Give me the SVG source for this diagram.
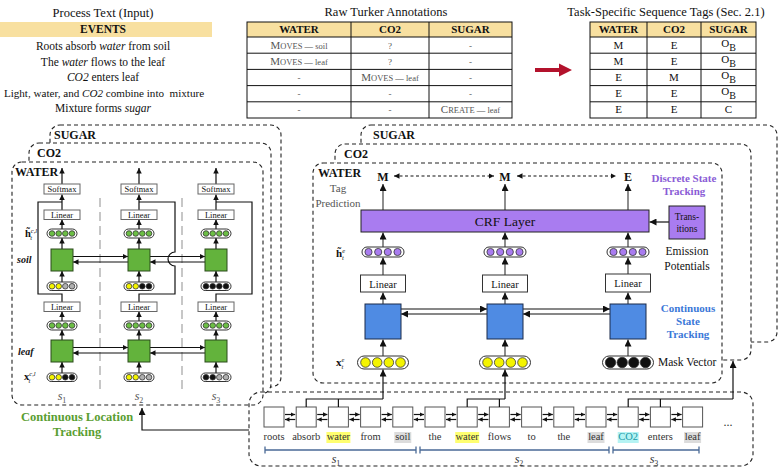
<svg xmlns="http://www.w3.org/2000/svg" width="783" height="468" viewBox="0 0 783 468" font-family="'Liberation Serif','Times New Roman',serif">
<defs>
<style>
text{font-family:"Liberation Serif","Times New Roman",serif;fill:#111}
.db{fill:#fff;stroke:#222;stroke-width:1.1;stroke-dasharray:4 3}
.dbn{fill:none;stroke:#222;stroke-width:1.1;stroke-dasharray:4 3}
.ln{stroke:#111;stroke-width:1.2;fill:none}
.lg{stroke:#444;stroke-width:1.2;fill:none}
.bx{fill:#fff;stroke:#666;stroke-width:1}
.bxr{fill:#fff;stroke:#333;stroke-width:1}
.pl{fill:#fff;stroke:#333;stroke-width:1}
.G{fill:#6cbf45;stroke:#333;stroke-width:0.8}
.Y{fill:#f4f400;stroke:#333;stroke-width:0.8}
.K{fill:#111;stroke:#333;stroke-width:0.8}
.A{fill:#b0b0b0;stroke:#333;stroke-width:0.8}
.P{fill:#a97cf0;stroke:#333;stroke-width:0.8}
.sq{fill:#63b33c;stroke:#2a4a1a;stroke-width:1}
.bq{fill:#4f8be3;stroke:#1a2a4a;stroke-width:1}
.pu{fill:#a97cf0;stroke:#222;stroke-width:1}
.wb{fill:#fff;stroke:#555;stroke-width:1}
.sep{stroke:#aaa;stroke-width:1.3;stroke-dasharray:9 5}
.tb{fill:none;stroke:#111;stroke-width:1}
.hd{fill:#f8e0a0}
.sp{stroke:#4a6a96;stroke-width:1.3;fill:none}
.c{text-anchor:middle}
.gr{fill:#555}
</style>
<marker id="a" viewBox="0 0 10 10" refX="10" refY="5" markerWidth="7" markerHeight="7" markerUnits="userSpaceOnUse" orient="auto-start-reverse"><path d="M0,0 L10,5 L0,10 z" fill="#111"/></marker>
<marker id="as" viewBox="0 0 10 10" refX="10" refY="5" markerWidth="5.5" markerHeight="5.5" markerUnits="userSpaceOnUse" orient="auto-start-reverse"><path d="M0,0 L10,5 L0,10 z" fill="#111"/></marker>
<marker id="at" viewBox="0 0 10 10" refX="10" refY="5" markerWidth="4.5" markerHeight="4.5" markerUnits="userSpaceOnUse" orient="auto-start-reverse"><path d="M0,0 L10,5 L0,10 z" fill="#111"/></marker>
</defs>

<!-- Top left: process text -->
<g id="process-text">
<text x="103" y="17" class="c" font-size="12.5">Process Text (Input)</text>
<rect x="0" y="22" width="212" height="15" class="hd"/>
<text x="103" y="33" class="c" font-size="11.5" font-weight="bold">EVENTS</text>
<text x="103" y="50" class="c" font-size="11.5">Roots absorb <tspan font-style="italic">water</tspan> from soil</text>
<text x="103" y="66" class="c" font-size="11.5">The <tspan font-style="italic">water</tspan> flows to the leaf</text>
<text x="103" y="81" class="c" font-size="11.5"><tspan font-style="italic">CO2</tspan> enters leaf</text>
<text x="104" y="97" class="c" font-size="11.1" xml:space="preserve">Light, water, and <tspan font-style="italic">CO2</tspan> combine into  mixture</text>
<text x="103" y="112" class="c" font-size="11.5">Mixture forms <tspan font-style="italic">sugar</tspan></text>
</g>

<!-- Raw Turker table -->
<g id="turker-table">
<text x="386" y="16" class="c" font-size="12.5">Raw Turker Annotations</text>
<rect x="247" y="22" width="265" height="15" class="hd"/>
<rect x="247" y="22" width="265" height="96" class="tb"/>
<path class="tb" d="M247,37H512M247,53.2H512M247,69.4H512M247,85.6H512M247,101.8H512M351,22V118M429,22V118"/>
<text x="299" y="33" class="c" font-size="11" font-weight="bold">WATER</text>
<text x="390" y="33" class="c" font-size="11" font-weight="bold">CO2</text>
<text x="470.5" y="33" class="c" font-size="11" font-weight="bold">SUGAR</text>
<text x="299" y="49" class="c gr"><tspan font-size="11">M</tspan><tspan font-size="8.5">OVES — soil</tspan></text>
<text x="390" y="49" class="c gr" font-size="9">?</text>
<text x="470.5" y="49" class="c gr" font-size="9">-</text>
<text x="299" y="65" class="c gr"><tspan font-size="11">M</tspan><tspan font-size="8.5">OVES — leaf</tspan></text>
<text x="390" y="65" class="c gr" font-size="9">?</text>
<text x="470.5" y="65" class="c gr" font-size="9">-</text>
<text x="299" y="81" class="c gr" font-size="9">-</text>
<text x="390" y="81" class="c gr"><tspan font-size="11">M</tspan><tspan font-size="8.5">OVES — leaf</tspan></text>
<text x="470.5" y="81" class="c gr" font-size="9">-</text>
<text x="299" y="97" class="c gr" font-size="9">-</text>
<text x="390" y="97" class="c gr" font-size="9">-</text>
<text x="470.5" y="97" class="c gr" font-size="9">-</text>
<text x="299" y="113" class="c gr" font-size="9">-</text>
<text x="390" y="113" class="c gr" font-size="9">-</text>
<text x="470.5" y="113" class="c gr"><tspan font-size="11">C</tspan><tspan font-size="8.5">REATE — leaf</tspan></text>
</g>

<!-- Red arrow -->
<g id="red-arrow"><path d="M535,68H559V63.5L572,70L559,76.5V72H535Z" fill="#b3122c"/></g>

<!-- Task tags table -->
<g id="tags-table">
<text x="666" y="16" class="c" font-size="12.5">Task-Specific Sequence Tags (Sec. 2.1)</text>
<rect x="590" y="22" width="166" height="15" class="hd"/>
<rect x="590" y="22" width="166" height="96" class="tb"/>
<path class="tb" d="M590,37H756M590,53.2H756M590,69.4H756M590,85.6H756M590,101.8H756M647,22V118M701,22V118"/>
<text x="618.5" y="33" class="c" font-size="11" font-weight="bold">WATER</text>
<text x="674" y="33" class="c" font-size="11" font-weight="bold">CO2</text>
<text x="728.5" y="33" class="c" font-size="11" font-weight="bold">SUGAR</text>
<text x="618.5" y="49" class="c" font-size="11">M</text><text x="674" y="49" class="c" font-size="11">E</text>
<text x="728.5" y="47" class="c" font-size="11">O<tspan dy="4" font-size="10">B</tspan></text>
<text x="618.5" y="65" class="c" font-size="11">M</text><text x="674" y="65" class="c" font-size="11">E</text>
<text x="728.5" y="63" class="c" font-size="11">O<tspan dy="4" font-size="10">B</tspan></text>
<text x="618.5" y="81" class="c" font-size="11">E</text><text x="674" y="81" class="c" font-size="11">M</text>
<text x="728.5" y="79" class="c" font-size="11">O<tspan dy="4" font-size="10">B</tspan></text>
<text x="618.5" y="97" class="c" font-size="11">E</text><text x="674" y="97" class="c" font-size="11">E</text>
<text x="728.5" y="95" class="c" font-size="11">O<tspan dy="4" font-size="10">B</tspan></text>
<text x="618.5" y="113" class="c" font-size="11">E</text><text x="674" y="113" class="c" font-size="11">E</text>
<text x="728.5" y="113" class="c" font-size="11">C</text>
</g>

<!-- LEFT PANEL frames -->
<g id="left-frames">
<rect x="50" y="125" width="231" height="262" rx="10" class="db"/>
<text x="54" y="139" font-size="12" font-weight="bold">SUGAR</text>
<rect x="29" y="143" width="242" height="251" rx="10" class="db"/>
<text x="37" y="157" font-size="12" font-weight="bold">CO2</text>
<rect x="12" y="162" width="251" height="243" rx="10" class="db"/>
<text x="15" y="176" font-size="12" font-weight="bold">WATER</text>
</g>

<!-- RIGHT PANEL frames -->
<g id="right-frames">
<rect x="361" y="125" width="416" height="217" rx="10" class="db"/>
<text x="373" y="139" font-size="12" font-weight="bold">SUGAR</text>
<rect x="335" y="144" width="416" height="216" rx="10" class="db"/>
<text x="344" y="158" font-size="12" font-weight="bold">CO2</text>
<rect x="313" y="163" width="409" height="220" rx="10" class="db"/>
<text x="318" y="177" font-size="12" font-weight="bold">WATER</text>
</g>

<!-- Bottom sequence frame -->
<g id="sequence-frame"><rect x="249" y="392" width="504" height="74" rx="12" class="dbn"/></g>

<!-- LEFT PANEL content -->
<g id="left-separators">
<line x1="100" y1="198" x2="100" y2="390" class="sep"/>
<line x1="182" y1="198" x2="182" y2="390" class="sep"/>
</g>
<g id="left-labels">
<text x="25" y="237" font-size="10.5" font-weight="bold">h&#x303;<tspan font-size="6.5" dy="-4" font-style="italic" font-weight="normal">c,l</tspan><tspan font-size="6.5" dx="-7" dy="7" font-style="italic" font-weight="normal">t</tspan></text>
<text x="17" y="263" font-size="10" font-weight="bold" font-style="italic">soil</text>
<text x="18" y="355" font-size="10" font-weight="bold" font-style="italic">leaf</text>
<text x="24" y="380" font-size="10.5" font-weight="bold">x<tspan font-size="6.5" dy="-4" font-style="italic" font-weight="normal">c,l</tspan><tspan font-size="6.5" dx="-7" dy="7" font-style="italic" font-weight="normal">t</tspan></text>
<text x="62" y="400" class="c gr" font-size="12" font-style="italic">s<tspan font-size="8" dy="3" font-style="normal">1</tspan></text>
<text x="139" y="400" class="c gr" font-size="12" font-style="italic">s<tspan font-size="8" dy="3" font-style="normal">2</tspan></text>
<text x="216" y="400" class="c gr" font-size="12" font-style="italic">s<tspan font-size="8" dy="3" font-style="normal">3</tspan></text>
</g>

<g id="left-connectors">
<path class="ln" d="M62,302V294H38V202H62"/>
<path class="ln" d="M139,302V294H175V266A7,7 0 0 1 175,252V202H139"/>
<path class="ln" d="M216,302V294H252V202H216"/>
<g class="ln" marker-end="url(#as)">
<line x1="62" y1="184" x2="62" y2="168"/><line x1="62" y1="210" x2="62" y2="194.5"/><line x1="62" y1="229" x2="62" y2="219.5"/><line x1="62" y1="249" x2="62" y2="238"/><line x1="62" y1="282" x2="62" y2="271"/><line x1="62" y1="321" x2="62" y2="311.5"/><line x1="62" y1="340" x2="62" y2="330"/><line x1="62" y1="373" x2="62" y2="362"/>
<line x1="139" y1="184" x2="139" y2="168"/><line x1="139" y1="210" x2="139" y2="194.5"/><line x1="139" y1="229" x2="139" y2="219.5"/><line x1="139" y1="249" x2="139" y2="238"/><line x1="139" y1="282" x2="139" y2="271"/><line x1="139" y1="321" x2="139" y2="311.5"/><line x1="139" y1="340" x2="139" y2="330"/><line x1="139" y1="373" x2="139" y2="362"/>
<line x1="216" y1="184" x2="216" y2="168"/><line x1="216" y1="210" x2="216" y2="194.5"/><line x1="216" y1="229" x2="216" y2="219.5"/><line x1="216" y1="249" x2="216" y2="238"/><line x1="216" y1="282" x2="216" y2="271"/><line x1="216" y1="321" x2="216" y2="311.5"/><line x1="216" y1="340" x2="216" y2="330"/><line x1="216" y1="373" x2="216" y2="362"/>
<line x1="73" y1="256.5" x2="128" y2="256.5"/><line x1="128" y1="262" x2="73" y2="262"/>
<line x1="150" y1="256.5" x2="205" y2="256.5"/><line x1="205" y1="262" x2="150" y2="262"/>
<line x1="73" y1="347.5" x2="128" y2="347.5"/><line x1="128" y1="353" x2="73" y2="353"/>
<line x1="150" y1="347.5" x2="205" y2="347.5"/><line x1="205" y1="353" x2="150" y2="353"/>
</g>
</g>

<g id="left-col1">
<rect x="44" y="184" width="36" height="10" class="bx"/><text x="62" y="192" class="c" font-size="8.5">Softmax</text>
<rect x="44" y="210" width="36" height="9.5" class="bx"/><text x="62" y="218" class="c" font-size="8.5">Linear</text>
<g transform="translate(47,229)"><rect class="pl" width="30" height="9" rx="4.5"/><circle class="G" cx="5" cy="4.5" r="2.8"/><circle class="G" cx="11.7" cy="4.5" r="2.8"/><circle class="G" cx="18.3" cy="4.5" r="2.8"/><circle class="G" cx="25" cy="4.5" r="2.8"/></g>
<rect x="51" y="249" width="22" height="22" class="sq"/>
<g transform="translate(47,282)"><rect class="pl" width="30" height="8.5" rx="4.2"/><circle class="Y" cx="5" cy="4.25" r="2.8"/><circle class="Y" cx="11.7" cy="4.25" r="2.8"/><circle class="A" cx="18.3" cy="4.25" r="2.8"/><circle class="A" cx="25" cy="4.25" r="2.8"/></g>
<rect x="44" y="302" width="36" height="9.5" class="bx"/><text x="62" y="310" class="c" font-size="8.5">Linear</text>
<g transform="translate(47,321)"><rect class="pl" width="30" height="9" rx="4.5"/><circle class="G" cx="5" cy="4.5" r="2.8"/><circle class="G" cx="11.7" cy="4.5" r="2.8"/><circle class="G" cx="18.3" cy="4.5" r="2.8"/><circle class="G" cx="25" cy="4.5" r="2.8"/></g>
<rect x="51" y="340" width="22" height="22" class="sq"/>
<g transform="translate(47,373)"><rect class="pl" width="30" height="8.5" rx="4.2"/><circle class="Y" cx="5" cy="4.25" r="2.8"/><circle class="Y" cx="11.7" cy="4.25" r="2.8"/><circle class="K" cx="18.3" cy="4.25" r="2.8"/><circle class="K" cx="25" cy="4.25" r="2.8"/></g>
</g>

<g id="left-col2">
<rect x="121" y="184" width="36" height="10" class="bx"/><text x="139" y="192" class="c" font-size="8.5">Softmax</text>
<rect x="121" y="210" width="36" height="9.5" class="bx"/><text x="139" y="218" class="c" font-size="8.5">Linear</text>
<g transform="translate(124,229)"><rect class="pl" width="30" height="9" rx="4.5"/><circle class="G" cx="5" cy="4.5" r="2.8"/><circle class="G" cx="11.7" cy="4.5" r="2.8"/><circle class="G" cx="18.3" cy="4.5" r="2.8"/><circle class="G" cx="25" cy="4.5" r="2.8"/></g>
<rect x="128" y="249" width="22" height="22" class="sq"/>
<g transform="translate(124,282)"><rect class="pl" width="30" height="8.5" rx="4.2"/><circle class="Y" cx="5" cy="4.25" r="2.8"/><circle class="Y" cx="11.7" cy="4.25" r="2.8"/><circle class="K" cx="18.3" cy="4.25" r="2.8"/><circle class="K" cx="25" cy="4.25" r="2.8"/></g>
<rect x="121" y="302" width="36" height="9.5" class="bx"/><text x="139" y="310" class="c" font-size="8.5">Linear</text>
<g transform="translate(124,321)"><rect class="pl" width="30" height="9" rx="4.5"/><circle class="G" cx="5" cy="4.5" r="2.8"/><circle class="G" cx="11.7" cy="4.5" r="2.8"/><circle class="G" cx="18.3" cy="4.5" r="2.8"/><circle class="G" cx="25" cy="4.5" r="2.8"/></g>
<rect x="128" y="340" width="22" height="22" class="sq"/>
<g transform="translate(124,373)"><rect class="pl" width="30" height="8.5" rx="4.2"/><circle class="Y" cx="5" cy="4.25" r="2.8"/><circle class="Y" cx="11.7" cy="4.25" r="2.8"/><circle class="A" cx="18.3" cy="4.25" r="2.8"/><circle class="A" cx="25" cy="4.25" r="2.8"/></g>
</g>

<g id="left-col3">
<rect x="198" y="184" width="36" height="10" class="bx"/><text x="216" y="192" class="c" font-size="8.5">Softmax</text>
<rect x="198" y="210" width="36" height="9.5" class="bx"/><text x="216" y="218" class="c" font-size="8.5">Linear</text>
<g transform="translate(201,229)"><rect class="pl" width="30" height="9" rx="4.5"/><circle class="G" cx="5" cy="4.5" r="2.8"/><circle class="G" cx="11.7" cy="4.5" r="2.8"/><circle class="G" cx="18.3" cy="4.5" r="2.8"/><circle class="G" cx="25" cy="4.5" r="2.8"/></g>
<rect x="205" y="249" width="22" height="22" class="sq"/>
<g transform="translate(201,282)"><rect class="pl" width="30" height="8.5" rx="4.2"/><circle class="K" cx="5" cy="4.25" r="2.8"/><circle class="K" cx="11.7" cy="4.25" r="2.8"/><circle class="K" cx="18.3" cy="4.25" r="2.8"/><circle class="K" cx="25" cy="4.25" r="2.8"/></g>
<rect x="198" y="302" width="36" height="9.5" class="bx"/><text x="216" y="310" class="c" font-size="8.5">Linear</text>
<g transform="translate(201,321)"><rect class="pl" width="30" height="9" rx="4.5"/><circle class="G" cx="5" cy="4.5" r="2.8"/><circle class="G" cx="11.7" cy="4.5" r="2.8"/><circle class="G" cx="18.3" cy="4.5" r="2.8"/><circle class="G" cx="25" cy="4.5" r="2.8"/></g>
<rect x="205" y="340" width="22" height="22" class="sq"/>
<g transform="translate(201,373)"><rect class="pl" width="30" height="8.5" rx="4.2"/><circle class="K" cx="5" cy="4.25" r="2.8"/><circle class="K" cx="11.7" cy="4.25" r="2.8"/><circle class="A" cx="18.3" cy="4.25" r="2.8"/><circle class="A" cx="25" cy="4.25" r="2.8"/></g>
</g>

<g id="left-title">
<text x="77" y="421" class="c" font-size="12.5" font-weight="bold" style="fill:#5a9e32">Continuous Location</text>
<text x="77" y="436" class="c" font-size="12.5" font-weight="bold" style="fill:#5a9e32">Tracking</text>
</g>

<!-- RIGHT PANEL content -->
<g id="right-labels">
<text x="383" y="181" class="c" font-size="12" font-weight="bold">M</text>
<text x="505" y="181" class="c" font-size="12" font-weight="bold">M</text>
<text x="628" y="181" class="c" font-size="12" font-weight="bold">E</text>
<text x="338" y="192" class="c" font-size="11" style="fill:#555">Tag</text>
<text x="338" y="207" class="c" font-size="11" style="fill:#555">Prediction</text>
<text x="336" y="257" font-size="11" font-weight="bold">h&#x303;<tspan font-size="6.5" dy="-4" font-style="italic" font-weight="normal">e</tspan><tspan font-size="6.5" dx="-3" dy="7" font-style="italic" font-weight="normal">t</tspan></text>
<text x="336" y="366" font-size="11" font-weight="bold">x<tspan font-size="6.5" dy="-4" font-style="italic" font-weight="normal">e</tspan><tspan font-size="6.5" dx="-3" dy="7" font-style="italic" font-weight="normal">t</tspan></text>
<text x="684" y="182" class="c" font-size="11" font-weight="bold" style="fill:#8a5cd6">Discrete State</text>
<text x="684" y="195" class="c" font-size="11" font-weight="bold" style="fill:#8a5cd6">Tracking</text>
<text x="687" y="255" class="c" font-size="11.5">Emission</text>
<text x="687" y="270" class="c" font-size="11.5">Potentials</text>
<text x="688" y="312" class="c" font-size="11" font-weight="bold" style="fill:#3b78d8">Continuous</text>
<text x="688" y="325" class="c" font-size="11" font-weight="bold" style="fill:#3b78d8">State</text>
<text x="688" y="338" class="c" font-size="11" font-weight="bold" style="fill:#3b78d8">Tracking</text>
<text x="658" y="366" font-size="11.5">Mask Vector</text>
</g>

<g id="right-connectors">
<g class="ln" stroke-dasharray="3 2.5" marker-start="url(#as)" marker-end="url(#as)">
<line x1="394" y1="176" x2="494" y2="176"/>
<line x1="517" y1="176" x2="616" y2="176"/>
</g>
<g class="lg" marker-end="url(#a)">
<line x1="383" y1="210" x2="383" y2="184"/><line x1="505" y1="210" x2="505" y2="184"/><line x1="628" y1="210" x2="628" y2="184"/>
<line x1="383" y1="247" x2="383" y2="232.5"/><line x1="505" y1="247" x2="505" y2="232.5"/><line x1="628" y1="247" x2="628" y2="232.5"/>
<line x1="383" y1="275" x2="383" y2="257.5"/><line x1="505" y1="275" x2="505" y2="257.5"/><line x1="628" y1="274" x2="628" y2="257.5"/>
<line x1="383" y1="304" x2="383" y2="292.5"/><line x1="505" y1="304" x2="505" y2="292.5"/><line x1="628" y1="304" x2="628" y2="292.5"/>
<line x1="383" y1="356" x2="383" y2="339.5"/><line x1="505" y1="356" x2="505" y2="339.5"/><line x1="628" y1="356" x2="628" y2="339.5"/>
</g>
<g class="ln" marker-end="url(#a)">
<line x1="669" y1="222" x2="649.5" y2="222"/>
<line x1="401" y1="309" x2="487" y2="309"/><line x1="487" y1="314" x2="401" y2="314"/>
<line x1="523" y1="309" x2="610" y2="309"/><line x1="610" y1="314" x2="523" y2="314"/>
</g>
</g>

<g id="crf-layer"><rect x="361" y="210" width="288" height="22" class="pu"/><text x="505" y="226" class="c" font-size="13.5">CRF Layer</text></g>
<g id="transitions"><rect x="669" y="206" width="36" height="33" class="pu"/><text x="687" y="220" class="c" font-size="9.5">Trans-</text><text x="687" y="232" class="c" font-size="9.5">itions</text></g>

<g id="right-col1">
<g transform="translate(362,247)"><rect class="pl" width="42" height="10" rx="5"/><circle class="P" cx="6.5" cy="5" r="3.6"/><circle class="P" cx="16.2" cy="5" r="3.6"/><circle class="P" cx="25.8" cy="5" r="3.6"/><circle class="P" cx="35.5" cy="5" r="3.6"/></g>
<rect x="360.5" y="275" width="45" height="17" class="bxr"/><text x="383" y="287.5" class="c" font-size="10.5">Linear</text>
<rect x="365" y="304" width="36" height="35" class="bq"/>
<g transform="translate(357.5,356)"><rect class="pl" width="51" height="13" rx="6.5"/><circle class="Y" cx="8" cy="6.5" r="4.8"/><circle class="Y" cx="19.7" cy="6.5" r="4.8"/><circle class="Y" cx="31.3" cy="6.5" r="4.8"/><circle class="Y" cx="43" cy="6.5" r="4.8"/></g>
</g>
<g id="right-col2">
<g transform="translate(484,247)"><rect class="pl" width="42" height="10" rx="5"/><circle class="P" cx="6.5" cy="5" r="3.6"/><circle class="P" cx="16.2" cy="5" r="3.6"/><circle class="P" cx="25.8" cy="5" r="3.6"/><circle class="P" cx="35.5" cy="5" r="3.6"/></g>
<rect x="482.5" y="275" width="45" height="17" class="bxr"/><text x="505" y="287.5" class="c" font-size="10.5">Linear</text>
<rect x="487" y="304" width="36" height="35" class="bq"/>
<g transform="translate(479.5,356)"><rect class="pl" width="51" height="13" rx="6.5"/><circle class="Y" cx="8" cy="6.5" r="4.8"/><circle class="Y" cx="19.7" cy="6.5" r="4.8"/><circle class="Y" cx="31.3" cy="6.5" r="4.8"/><circle class="Y" cx="43" cy="6.5" r="4.8"/></g>
</g>
<g id="right-col3">
<g transform="translate(607,247)"><rect class="pl" width="42" height="10" rx="5"/><circle class="P" cx="6.5" cy="5" r="3.6"/><circle class="P" cx="16.2" cy="5" r="3.6"/><circle class="P" cx="25.8" cy="5" r="3.6"/><circle class="P" cx="35.5" cy="5" r="3.6"/></g>
<rect x="605.5" y="274" width="45" height="18" class="bxr"/><text x="628" y="287" class="c" font-size="10.5">Linear</text>
<rect x="610" y="304" width="36" height="35" class="bq"/>
<g transform="translate(602.5,356)"><rect class="pl" width="51" height="13" rx="6.5"/><circle class="K" cx="8" cy="6.5" r="5.2"/><circle class="K" cx="19.7" cy="6.5" r="5.2"/><circle class="K" cx="31.3" cy="6.5" r="5.2"/><circle class="K" cx="43" cy="6.5" r="5.2"/></g>
</g>

<!-- Bottom sequence -->
<g id="word-highlights">
<rect x="326.4" y="432" width="24" height="11" fill="#ffff70"/>
<rect x="455.2" y="432" width="24" height="11" fill="#ffff70"/>
<rect x="394.3" y="432" width="17" height="11" fill="#dcdcdc"/>
<rect x="587.5" y="432" width="17" height="11" fill="#dcdcdc"/>
<rect x="684.1" y="432" width="17" height="11" fill="#dcdcdc"/>
<rect x="617.7" y="432" width="21" height="11" fill="#b5f3f3"/>
</g>
<g id="word-boxes">
<rect x="264" y="407" width="20" height="20" class="wb"/>
<rect x="296.2" y="407" width="20" height="20" class="wb"/>
<rect x="328.4" y="407" width="20" height="20" class="wb"/>
<rect x="360.6" y="407" width="20" height="20" class="wb"/>
<rect x="392.8" y="407" width="20" height="20" class="wb"/>
<rect x="425" y="407" width="20" height="20" class="wb"/>
<rect x="457.2" y="407" width="20" height="20" class="wb"/>
<rect x="489.4" y="407" width="20" height="20" class="wb"/>
<rect x="521.6" y="407" width="20" height="20" class="wb"/>
<rect x="553.8" y="407" width="20" height="20" class="wb"/>
<rect x="586" y="407" width="20" height="20" class="wb"/>
<rect x="618.2" y="407" width="20" height="20" class="wb"/>
<rect x="650.4" y="407" width="20" height="20" class="wb"/>
<rect x="682.6" y="407" width="20" height="20" class="wb"/>
</g>
<g id="words">
<text x="274" y="440" class="c" font-size="10.5" style="fill:#333">roots</text>
<text x="306.2" y="440" class="c" font-size="10.5" style="fill:#333">absorb</text>
<text x="338.4" y="440" class="c" font-size="10.5" style="fill:#333">water</text>
<text x="370.6" y="440" class="c" font-size="10.5" style="fill:#333">from</text>
<text x="402.8" y="440" class="c" font-size="10.5" style="fill:#333">soil</text>
<text x="435" y="440" class="c" font-size="10.5" style="fill:#333">the</text>
<text x="467.2" y="440" class="c" font-size="10.5" style="fill:#333">water</text>
<text x="499.4" y="440" class="c" font-size="10.5" style="fill:#333">flows</text>
<text x="531.6" y="440" class="c" font-size="10.5" style="fill:#333">to</text>
<text x="563.8" y="440" class="c" font-size="10.5" style="fill:#333">the</text>
<text x="596" y="440" class="c" font-size="10.5" style="fill:#333">leaf</text>
<text x="628.2" y="440" class="c" font-size="10.5" style="fill:#1a9aa8">CO2</text>
<text x="660.4" y="440" class="c" font-size="10.5" style="fill:#333">enters</text>
<text x="692.6" y="440" class="c" font-size="10.5" style="fill:#333">leaf</text>
<text x="728" y="426" class="c" font-size="12" style="fill:#333">...</text>
</g>

<g id="connectors">
<g class="ln" stroke-width="1" marker-end="url(#at)">
<line x1="285" y1="414.5" x2="295.2" y2="414.5"/><line x1="295.2" y1="419.5" x2="285" y2="419.5"/>
<line x1="317.2" y1="414.5" x2="327.4" y2="414.5"/><line x1="327.4" y1="419.5" x2="317.2" y2="419.5"/>
<line x1="349.4" y1="414.5" x2="359.6" y2="414.5"/><line x1="359.6" y1="419.5" x2="349.4" y2="419.5"/>
<line x1="381.6" y1="414.5" x2="391.8" y2="414.5"/><line x1="391.8" y1="419.5" x2="381.6" y2="419.5"/>
<line x1="413.8" y1="414.5" x2="424" y2="414.5"/><line x1="424" y1="419.5" x2="413.8" y2="419.5"/>
<line x1="446" y1="414.5" x2="456.2" y2="414.5"/><line x1="456.2" y1="419.5" x2="446" y2="419.5"/>
<line x1="478.2" y1="414.5" x2="488.4" y2="414.5"/><line x1="488.4" y1="419.5" x2="478.2" y2="419.5"/>
<line x1="510.4" y1="414.5" x2="520.6" y2="414.5"/><line x1="520.6" y1="419.5" x2="510.4" y2="419.5"/>
<line x1="542.6" y1="414.5" x2="552.8" y2="414.5"/><line x1="552.8" y1="419.5" x2="542.6" y2="419.5"/>
<line x1="574.8" y1="414.5" x2="585" y2="414.5"/><line x1="585" y1="419.5" x2="574.8" y2="419.5"/>
<line x1="607" y1="414.5" x2="617.2" y2="414.5"/><line x1="617.2" y1="419.5" x2="607" y2="419.5"/>
<line x1="639.2" y1="414.5" x2="649.4" y2="414.5"/><line x1="649.4" y1="419.5" x2="639.2" y2="419.5"/>
<line x1="671.4" y1="414.5" x2="681.6" y2="414.5"/><line x1="681.6" y1="419.5" x2="671.4" y2="419.5"/>
</g>
<path class="ln" d="M306.2,407V399H383M338.4,407V399"/>
<path class="ln" d="M467.2,407V399H505M499.4,407V399"/>
<path class="ln" d="M628.2,407V399H733M660.4,407V399"/>
<g class="ln" marker-end="url(#a)">
<line x1="383" y1="399" x2="383" y2="369.5"/>
<line x1="505" y1="399" x2="505" y2="369.5"/>
<line x1="733" y1="399" x2="733" y2="361"/>
</g>
<path class="ln" d="M249,430H142V408" marker-end="url(#a)"/>
</g>

<g id="spans">
<path class="sp" d="M265,450H416M265,446.5V453.5M416,446.5V453.5"/>
<path class="sp" d="M420,450H609M420,446.5V453.5M609,446.5V453.5"/>
<path class="sp" d="M613,450H699M613,446.5V453.5M699,446.5V453.5"/>
<text x="336" y="463" class="c" font-size="12" font-style="italic" style="fill:#333">s<tspan font-size="8" dy="3" font-style="normal">1</tspan></text>
<text x="519" y="463" class="c" font-size="12" font-style="italic" style="fill:#333">s<tspan font-size="8" dy="3" font-style="normal">2</tspan></text>
<text x="654" y="463" class="c" font-size="12" font-style="italic" style="fill:#333">s<tspan font-size="8" dy="3" font-style="normal">3</tspan></text>
</g>
</svg>
